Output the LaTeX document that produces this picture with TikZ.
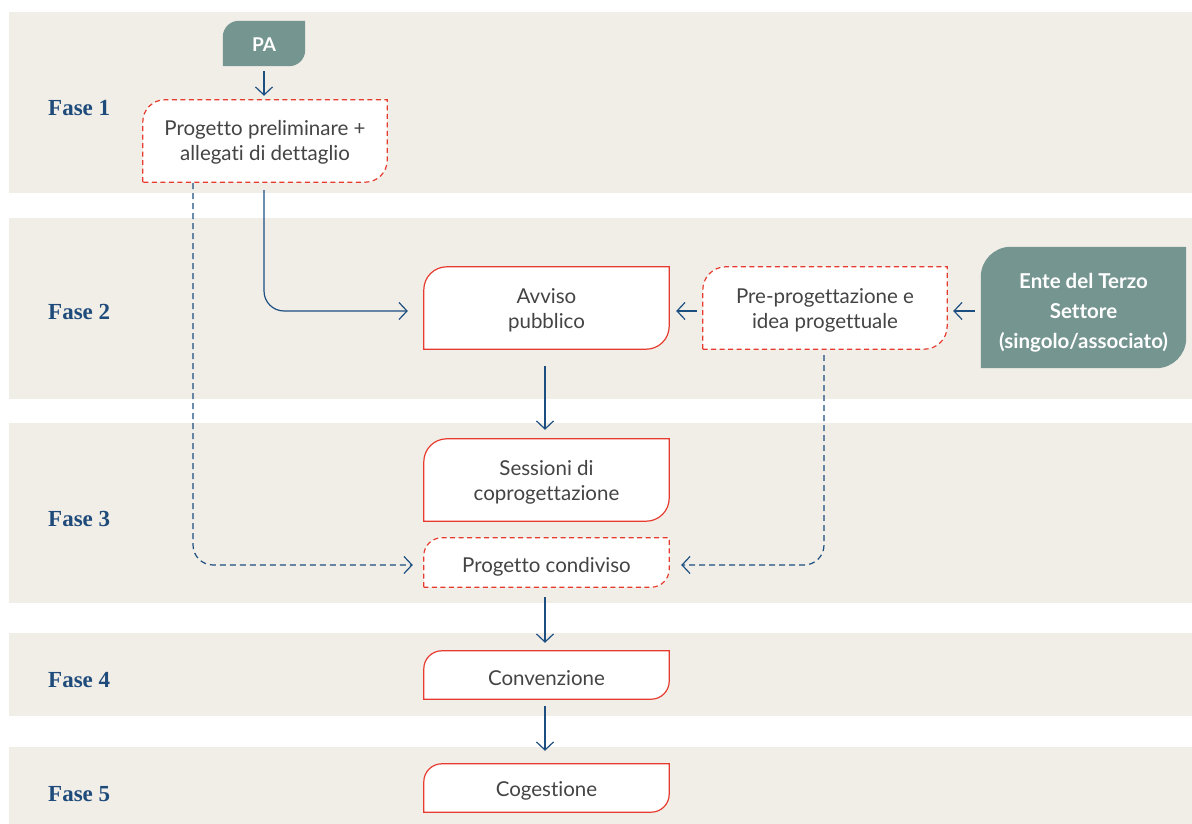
\documentclass[tikz,border=0pt]{standalone}
\usepackage{fontspec}
\setmainfont{Lato}[Ligatures=NoCommon]
\newfontfamily\fasefont{Liberation Serif}
\usetikzlibrary{arrows.meta}
\definecolor{bandc}{HTML}{F1EEE8}
\definecolor{tealc}{HTML}{759590}
\definecolor{redc}{HTML}{E63B2E}
\definecolor{bluec}{HTML}{1D4E80}
\definecolor{txtc}{HTML}{444444}
\definecolor{fasec}{HTML}{1F4B7B}
\pgfdeclarelayer{bands}
\pgfdeclarelayer{shapes}
\pgfsetlayers{bands,shapes,main}
\newcommand\leafshape[3]{%
  \begin{pgfonlayer}{shapes}
  \path[#1] (#2.south west) -- ([yshift=-#3]#2.north west)
    arc[start angle=180,end angle=90,radius=#3] -- (#2.north east)
    -- ([yshift=#3]#2.south east)
    arc[start angle=0,end angle=-90,radius=#3] -- cycle;
  \end{pgfonlayer}}
\tikzset{
  bandfill/.style={fill=bandc,draw=none},
  boxnode/.style={shape=rectangle,inner sep=0pt},
  boxtext/.style={shape=rectangle,inner sep=0pt,align=center,text=txtc,
    font=\fontsize{20.5}{24.5}\selectfont},
  actor/.style={shape=rectangle,inner sep=0pt,align=center,text=white,
    font=\bfseries\fontsize{20.5}{30}\selectfont},
  solidshape/.style={draw=redc,line width=1.2pt,fill=white},
  dashshape/.style={draw=redc,line width=1.2pt,fill=white,dash pattern=on 5pt off 3.5pt},
  tealshape/.style={fill=tealc,draw=none},
  arr/.style={draw=bluec,line width=1.2pt,
    -{Straight Barb[length=8pt,width=17pt,line width=1.2pt]}},
  darr/.style={arr,dash pattern=on 6pt off 4pt},
  faselabel/.style={anchor=west,inner sep=0pt,text=fasec,
    font=\fasefont\bfseries\fontsize{23}{23}\selectfont}
}
\begin{document}
\begin{tikzpicture}[x=1pt,y=1pt]
\useasboundingbox (0,0) rectangle (1192,824);
\begin{pgfonlayer}{bands}
\fill[bandfill] (9,631) rectangle (1192,812);
\fill[bandfill] (9,425) rectangle (1192,606);
\fill[bandfill] (9,221) rectangle (1192,401);
\fill[bandfill] (9,108) rectangle (1192,191);
\fill[bandfill] (9,0) rectangle (1192,77);
\end{pgfonlayer}

\node[faselabel] (f1) at (48,716) {Fase 1};
\node[faselabel] (f2) at (48,512) {Fase 2};
\node[faselabel] (f3) at (48,305) {Fase 3};
\node[faselabel] (f4) at (48,144) {Fase 4};
\node[faselabel] (f5) at (48,30) {Fase 5};

% PA
\node[boxnode,minimum width=82pt,minimum height=45pt] (pa) at (264,780.5) {};
\leafshape{tealshape}{pa}{16pt}
\node[actor,font=\bfseries\fontsize{19}{23}\selectfont] (pat) at ([yshift=-1pt]pa.center) {PA};
% Fase 1
\node[boxnode,minimum width=244pt,minimum height=82pt] (prelim) at (265,683) {};
\leafshape{dashshape}{prelim}{22pt}
\node[boxtext] (prelimt) at ([yshift=-1.5pt]prelim.center) {Progetto preliminare +\\allegati di dettaglio};
% Fase 2
\node[boxnode,minimum width=245pt,minimum height=82pt] (avviso) at (546.5,516) {};
\leafshape{solidshape}{avviso}{23pt}
\node[boxtext] (avvisot) at ([yshift=-2.5pt]avviso.center) {Avviso\\pubblico};
\node[boxnode,minimum width=244pt,minimum height=82pt] (prepro) at (825,516) {};
\leafshape{dashshape}{prepro}{23pt}
\node[boxtext] (preprot) at ([yshift=-2.5pt]prepro.center) {Pre-progettazione e\\idea progettuale};
\node[boxnode,minimum width=205pt,minimum height=121pt] (ente) at (1083.5,516.5) {};
\leafshape{tealshape}{ente}{30pt}
\node[actor] (entet) at ([yshift=-5pt]ente.center) {Ente del Terzo\\Settore\\(singolo/associato)};
% Fase 3
\node[boxnode,minimum width=245pt,minimum height=82pt] (sessioni) at (546.5,344) {};
\leafshape{solidshape}{sessioni}{23pt}
\node[boxtext] (sessionit) at ([yshift=-2.5pt]sessioni.center) {Sessioni di\\coprogettazione};
\node[boxnode,minimum width=245pt,minimum height=49pt] (condiviso) at (546.5,261.5) {};
\leafshape{dashshape}{condiviso}{18pt}
\node[boxtext] (condivisot) at ([yshift=-4pt]condiviso.center) {Progetto condiviso};
% Fase 4, 5
\node[boxnode,minimum width=245pt,minimum height=48pt] (convenzione) at (546.5,149) {};
\leafshape{solidshape}{convenzione}{18pt}
\node[boxtext] (convenzionet) at ([yshift=-3pt]convenzione.center) {Convenzione};
\node[boxnode,minimum width=245pt,minimum height=48pt] (cogestione) at (546.5,36) {};
\leafshape{solidshape}{cogestione}{18pt}
\node[boxtext] (cogestionet) at ([yshift=-3pt]cogestione.center) {Cogestione};

\draw[arr,shorten <=5pt,shorten >=4pt] (pa.south) -- (pa.south |- prelim.north);
\draw[arr,rounded corners=20pt,shorten <=8pt,shorten >=16pt]
  (pa.south |- prelim.south) |- ([yshift=-3pt]avviso.west);
\draw[arr,shorten <=6pt,shorten >=7pt] ([yshift=-3pt]prepro.west) -- ([yshift=-3pt]avviso.east);
\draw[arr,shorten <=6pt,shorten >=6pt] ([yshift=-3.5pt]ente.west) -- ([yshift=-3pt]prepro.east);
\draw[arr,shorten <=17pt,shorten >=9pt] ([xshift=-1.5pt]avviso.south) -- ([xshift=-1.5pt]sessioni.north);
\draw[darr,rounded corners=20pt,shorten <=1pt,shorten >=11pt]
  ([xshift=-72pt]prelim.south) |- ([yshift=-2.5pt]condiviso.west);
\draw[darr,rounded corners=20pt,shorten <=6pt,shorten >=12pt]
  ([xshift=-1pt]prepro.south) |- ([yshift=-2.5pt]condiviso.east);
\draw[arr,shorten <=10pt,shorten >=8pt] ([xshift=-1.5pt]condiviso.south) -- ([xshift=-1.5pt]convenzione.north);
\draw[arr,shorten <=7pt,shorten >=13pt] ([xshift=-1.5pt]convenzione.south) -- ([xshift=-1.5pt]cogestione.north);
\end{tikzpicture}
\end{document}
